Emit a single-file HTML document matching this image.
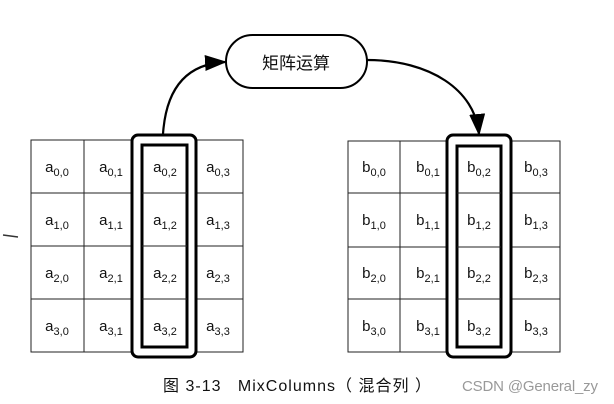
<!DOCTYPE html>
<html><head><meta charset="utf-8"><style>
html,body{margin:0;padding:0;background:#fff;}
svg{display:block}
text{font-family:"Liberation Sans","Noto Sans CJK SC",sans-serif;fill:#111}
</style></head><body>
<svg width="614" height="404" viewBox="0 0 614 404" xmlns="http://www.w3.org/2000/svg">
<defs>
<marker id="ah" markerWidth="22" markerHeight="16" refX="20" refY="8" orient="auto" markerUnits="userSpaceOnUse" viewBox="0 0 22 16">
<path d="M0,0 L22,8 L0,16 z" fill="#000"/></marker>
</defs>
<g stroke="#222" stroke-width="1" fill="none">
<rect x="31" y="140" width="212" height="212"/>
<line x1="84" y1="140" x2="84" y2="352"/><line x1="138" y1="140" x2="138" y2="352"/><line x1="192" y1="140" x2="192" y2="352"/>
<line x1="31" y1="193" x2="243" y2="193"/><line x1="31" y1="246" x2="243" y2="246"/><line x1="31" y1="299" x2="243" y2="299"/>
<rect x="348" y="141" width="212" height="211"/>
<line x1="400" y1="141" x2="400" y2="352"/><line x1="457" y1="141" x2="457" y2="352"/><line x1="512" y1="141" x2="512" y2="352"/>
<line x1="348" y1="193" x2="560" y2="193"/><line x1="348" y1="247" x2="560" y2="247"/><line x1="348" y1="299" x2="560" y2="299"/>
</g>
<g stroke="#000" stroke-width="3" fill="none">
<rect x="132" y="135" width="64" height="222" rx="6" fill="#fff"/>
<rect x="142" y="145" width="45" height="202"/>
<rect x="447" y="135" width="64" height="222" rx="6" fill="#fff"/>
<rect x="457" y="146" width="44" height="201"/>
</g>
<g stroke="#222" stroke-width="1">
<line x1="142" y1="193" x2="187" y2="193"/><line x1="142" y1="246" x2="187" y2="246"/><line x1="142" y1="299" x2="187" y2="299"/>
<line x1="457" y1="193" x2="501" y2="193"/><line x1="457" y1="247" x2="501" y2="247"/><line x1="457" y1="299" x2="501" y2="299"/>
</g>
<rect x="226" y="35" width="141" height="53" rx="26.5" fill="#fff" stroke="#000" stroke-width="2"/>
<text x="296" y="69" font-size="17" text-anchor="middle">矩阵运算</text>
<path d="M163,134 C166,90 185,64 225,62" stroke="#000" stroke-width="2.2" fill="none" marker-end="url(#ah)"/>
<path d="M367,60 C430,60 475,90 479,134" stroke="#000" stroke-width="2.2" fill="none" marker-end="url(#ah)"/>
<line x1="3" y1="235" x2="18" y2="237" stroke="#333" stroke-width="1.5"/>
<g font-size="15" text-anchor="middle">
<text x="57" y="172">a<tspan font-size="11" dy="4">0,0</tspan></text>
<text x="111" y="172">a<tspan font-size="11" dy="4">0,1</tspan></text>
<text x="165" y="172">a<tspan font-size="11" dy="4">0,2</tspan></text>
<text x="218" y="172">a<tspan font-size="11" dy="4">0,3</tspan></text>
<text x="57" y="225">a<tspan font-size="11" dy="4">1,0</tspan></text>
<text x="111" y="225">a<tspan font-size="11" dy="4">1,1</tspan></text>
<text x="165" y="225">a<tspan font-size="11" dy="4">1,2</tspan></text>
<text x="218" y="225">a<tspan font-size="11" dy="4">1,3</tspan></text>
<text x="57" y="278">a<tspan font-size="11" dy="4">2,0</tspan></text>
<text x="111" y="278">a<tspan font-size="11" dy="4">2,1</tspan></text>
<text x="165" y="278">a<tspan font-size="11" dy="4">2,2</tspan></text>
<text x="218" y="278">a<tspan font-size="11" dy="4">2,3</tspan></text>
<text x="57" y="331">a<tspan font-size="11" dy="4">3,0</tspan></text>
<text x="111" y="331">a<tspan font-size="11" dy="4">3,1</tspan></text>
<text x="165" y="331">a<tspan font-size="11" dy="4">3,2</tspan></text>
<text x="218" y="331">a<tspan font-size="11" dy="4">3,3</tspan></text>
<text x="374" y="172">b<tspan font-size="11" dy="4">0,0</tspan></text>
<text x="428" y="172">b<tspan font-size="11" dy="4">0,1</tspan></text>
<text x="479" y="172">b<tspan font-size="11" dy="4">0,2</tspan></text>
<text x="536" y="172">b<tspan font-size="11" dy="4">0,3</tspan></text>
<text x="374" y="225">b<tspan font-size="11" dy="4">1,0</tspan></text>
<text x="428" y="225">b<tspan font-size="11" dy="4">1,1</tspan></text>
<text x="479" y="225">b<tspan font-size="11" dy="4">1,2</tspan></text>
<text x="536" y="225">b<tspan font-size="11" dy="4">1,3</tspan></text>
<text x="374" y="278">b<tspan font-size="11" dy="4">2,0</tspan></text>
<text x="428" y="278">b<tspan font-size="11" dy="4">2,1</tspan></text>
<text x="479" y="278">b<tspan font-size="11" dy="4">2,2</tspan></text>
<text x="536" y="278">b<tspan font-size="11" dy="4">2,3</tspan></text>
<text x="374" y="331">b<tspan font-size="11" dy="4">3,0</tspan></text>
<text x="428" y="331">b<tspan font-size="11" dy="4">3,1</tspan></text>
<text x="479" y="331">b<tspan font-size="11" dy="4">3,2</tspan></text>
<text x="536" y="331">b<tspan font-size="11" dy="4">3,3</tspan></text>
</g>
<text x="163" y="391" font-size="16" xml:space="preserve" textLength="268" lengthAdjust="spacing">图 3-13   MixColumns（ 混合列 ）</text>
<text x="462" y="391" font-size="15" style="fill:#999" textLength="136" lengthAdjust="spacing">CSDN @General_zy</text>
</svg>
</body></html>
